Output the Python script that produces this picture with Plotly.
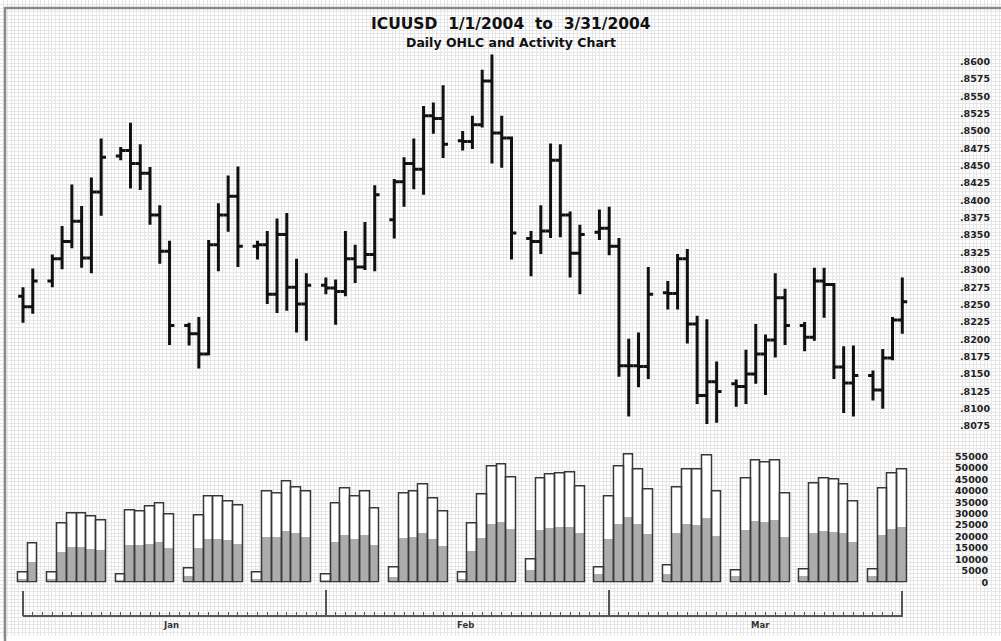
import plotly.graph_objects as go

# ---------------- data ----------------
dates = [
    "2004-01-01", "2004-01-02", "2004-01-04", "2004-01-05", "2004-01-06", "2004-01-07", "2004-01-08", "2004-01-09",
    "2004-01-11", "2004-01-12", "2004-01-13", "2004-01-14", "2004-01-15", "2004-01-16",
    "2004-01-18", "2004-01-19", "2004-01-20", "2004-01-21", "2004-01-22", "2004-01-23",
    "2004-01-25", "2004-01-26", "2004-01-27", "2004-01-28", "2004-01-29", "2004-01-30",
    "2004-02-01", "2004-02-02", "2004-02-03", "2004-02-04", "2004-02-05", "2004-02-06",
    "2004-02-08", "2004-02-09", "2004-02-10", "2004-02-11", "2004-02-12", "2004-02-13",
    "2004-02-15", "2004-02-16", "2004-02-17", "2004-02-18", "2004-02-19", "2004-02-20",
    "2004-02-22", "2004-02-23", "2004-02-24", "2004-02-25", "2004-02-26", "2004-02-27",
    "2004-02-29", "2004-03-01", "2004-03-02", "2004-03-03", "2004-03-04", "2004-03-05",
    "2004-03-07", "2004-03-08", "2004-03-09", "2004-03-10", "2004-03-11", "2004-03-12",
    "2004-03-14", "2004-03-15", "2004-03-16", "2004-03-17", "2004-03-18", "2004-03-19",
    "2004-03-21", "2004-03-22", "2004-03-23", "2004-03-24", "2004-03-25", "2004-03-26",
    "2004-03-28", "2004-03-29", "2004-03-30", "2004-03-31",
]

opens = [
    0.8262, 0.8247, 0.8284, 0.8316, 0.8341, 0.8370, 0.8317, 0.8412,
    0.8464, 0.8472, 0.8453, 0.8439, 0.8379, 0.8327,
    0.8220, 0.8208, 0.8179, 0.8336, 0.8379, 0.8406,
    0.8334, 0.8336, 0.8265, 0.8351, 0.8275, 0.8251,
    0.8278, 0.8274, 0.8269, 0.8316, 0.8304, 0.8322,
    0.8372, 0.8427, 0.8453, 0.8445, 0.8522, 0.8518,
    0.8486, 0.8485, 0.8509, 0.8572, 0.8497, 0.8490,
    0.8345, 0.8341, 0.8356, 0.8458, 0.8379, 0.8324,
    0.8354, 0.8360, 0.8334, 0.8162, 0.8162, 0.8161,
    0.8267, 0.8266, 0.8316, 0.8222, 0.8119, 0.8139,
    0.8136, 0.8132, 0.8150, 0.8179, 0.8199, 0.8260,
    0.8220, 0.8203, 0.8284, 0.8279, 0.8160, 0.8137,
    0.8148, 0.8127, 0.8173, 0.8228,
]
highs = [
    0.8275, 0.8302, 0.8322, 0.8363, 0.8423, 0.8392, 0.8433, 0.8489,
    0.8477, 0.8512, 0.8481, 0.8448, 0.8393, 0.8342,
    0.8224, 0.8232, 0.8343, 0.8396, 0.8436, 0.8449,
    0.8342, 0.8356, 0.8374, 0.8382, 0.8316, 0.8295,
    0.8289, 0.8286, 0.8356, 0.8336, 0.8369, 0.8422,
    0.8431, 0.8462, 0.8489, 0.8536, 0.8541, 0.8566,
    0.8500, 0.8522, 0.8588, 0.8610, 0.8522, 0.8492,
    0.8356, 0.8393, 0.8482, 0.8481, 0.8384, 0.8365,
    0.8387, 0.8391, 0.8346, 0.8201, 0.8210, 0.8304,
    0.8284, 0.8323, 0.8330, 0.8234, 0.8229, 0.8168,
    0.8142, 0.8185, 0.8222, 0.8207, 0.8295, 0.8273,
    0.8225, 0.8303, 0.8303, 0.8281, 0.8190, 0.8191,
    0.8155, 0.8186, 0.8232, 0.8289,
]
lows = [
    0.8224, 0.8237, 0.8275, 0.8301, 0.8331, 0.8303, 0.8295, 0.8378,
    0.8458, 0.8417, 0.8415, 0.8365, 0.8309, 0.8192,
    0.8191, 0.8158, 0.8177, 0.8298, 0.8355, 0.8304,
    0.8315, 0.8251, 0.8238, 0.8241, 0.8210, 0.8198,
    0.8265, 0.8221, 0.8262, 0.8281, 0.8300, 0.8298,
    0.8345, 0.8391, 0.8416, 0.8408, 0.8496, 0.8461,
    0.8472, 0.8474, 0.8505, 0.8453, 0.8447, 0.8315,
    0.8291, 0.8323, 0.8346, 0.8347, 0.8289, 0.8265,
    0.8343, 0.8321, 0.8146, 0.8089, 0.8131, 0.8143,
    0.8243, 0.8243, 0.8194, 0.8107, 0.8078, 0.8080,
    0.8103, 0.8107, 0.8136, 0.8120, 0.8174, 0.8192,
    0.8183, 0.8198, 0.8231, 0.8143, 0.8094, 0.8089,
    0.8112, 0.8100, 0.8170, 0.8208,
]
closes = [
    0.8247, 0.8284, 0.8316, 0.8341, 0.8370, 0.8317, 0.8412, 0.8462,
    0.8472, 0.8453, 0.8439, 0.8379, 0.8327, 0.8220,
    0.8208, 0.8179, 0.8336, 0.8379, 0.8406, 0.8334,
    0.8336, 0.8265, 0.8351, 0.8275, 0.8251, 0.8278,
    0.8274, 0.8269, 0.8316, 0.8304, 0.8322, 0.8408,
    0.8427, 0.8453, 0.8445, 0.8522, 0.8518, 0.8481,
    0.8485, 0.8509, 0.8572, 0.8497, 0.8490, 0.8353,
    0.8341, 0.8356, 0.8458, 0.8379, 0.8324, 0.8351,
    0.8360, 0.8334, 0.8162, 0.8162, 0.8161, 0.8265,
    0.8266, 0.8316, 0.8222, 0.8119, 0.8139, 0.8125,
    0.8132, 0.8150, 0.8179, 0.8199, 0.8260, 0.8220,
    0.8203, 0.8284, 0.8279, 0.8160, 0.8137, 0.8148,
    0.8127, 0.8173, 0.8228, 0.8254,
]

volume_total = [
    4500, 17200, 4500, 25900, 30100, 30100, 29000, 27200,
    3300, 31600, 31000, 33200, 34600, 29500,
    6000, 29100, 37700, 37700, 35500, 33600,
    4500, 39500, 39000, 44000, 41600, 39500,
    3300, 34600, 41200, 37300, 39700, 32200,
    6700, 39000, 39500, 42700, 36800, 31100,
    4500, 25900, 38300, 50500, 51700, 45900,
    10000, 45400, 47000, 47700, 48200, 41800,
    6600, 37600, 50700, 55800, 49300, 40500,
    7300, 41500, 49200, 49200, 55500, 39700,
    5200, 45300, 53300, 52400, 53400, 39000,
    5800, 43200, 45300, 44800, 42700, 35400,
    5800, 41200, 47600, 49200,
]
volume_gray = [
    1500, 8700, 1500, 13200, 15300, 15300, 14300, 13800,
    1000, 16000, 16000, 16700, 17300, 14700,
    2500, 14700, 18900, 18900, 18200, 16700,
    1500, 19800, 19800, 22100, 21400, 19800,
    1000, 17500, 20400, 18900, 20400, 16000,
    2000, 19400, 19700, 21300, 18600, 15700,
    1500, 13500, 19200, 25500, 26200, 23300,
    5100, 22700, 23600, 24200, 24200, 21300,
    3300, 18900, 25500, 28400, 25500, 20800,
    3600, 21300, 25500, 25000, 28100, 19900,
    2600, 22600, 26500, 26200, 26900, 19800,
    2600, 21300, 22300, 22000, 21300, 17500,
    2600, 20400, 23300, 24200,
]

price_ticks = [0.8600, 0.8575, 0.8550, 0.8525, 0.8500, 0.8475, 0.8450, 0.8425, 0.8400, 0.8375, 0.8350,
               0.8325, 0.8300, 0.8275, 0.8250, 0.8225, 0.8200, 0.8175, 0.8150, 0.8125, 0.8100, 0.8075]
price_tick_labels = [".8600", ".8575", ".8550", ".8525", ".8500", ".8475", ".8450", ".8425", ".8400", ".8375",
                     ".8350", ".8325", ".8300", ".8275", ".8250", ".8225", ".8200", ".8175", ".8150", ".8125",
                     ".8100", ".8075"]
volume_ticks = [55000, 50000, 45000, 40000, 35000, 30000, 25000, 20000, 15000, 10000, 5000, 0]
volume_tick_labels = ["55000", "50000", "45000", "40000", "35000", "30000", "25000", "20000", "15000",
                      "10000", "5000", "0"]
month_bounds = ["2004-01-01", "2004-02-01", "2004-03-01", "2004-03-31"]
axis_ends = ["2004-01-01", "2004-03-31"]
month_labels = ["Jan", "Feb", "Mar"]
month_label_dates = ["2004-01-16 04:00", "2004-02-15 06:00", "2004-03-16 12:00"]

title_text = "ICUUSD\u00a0\u00a01/1/2004\u00a0\u00a0to\u00a0\u00a03/31/2004"
subtitle_text = "Daily OHLC and Activity Chart"

# ---------------- layout helpers (pixel -> paper) ----------------
W, H = 1001, 641
DAY = 86400000


def fx(p):
    return p / W


def fy(p):
    return 1 - p / H


tick_font = dict(family="DejaVu Sans", size=9.5, color="#222222", weight="bold")
AXIS_GRAY = "#555555"

fig = go.Figure()

# background paper grid (own subplot, drawn first)
fig.add_trace(go.Scatter(x=[0], y=[0], xaxis="x", yaxis="y", mode="markers",
                         marker=dict(opacity=0), hoverinfo="skip", showlegend=False))

# OHLC
fig.add_trace(go.Ohlc(x=dates, open=opens, high=highs, low=lows, close=closes,
                      xaxis="x2", yaxis="y2", tickwidth=0.5,
                      increasing=dict(line=dict(color="#111111", width=3)),
                      decreasing=dict(line=dict(color="#111111", width=3)),
                      showlegend=False, hoverinfo="skip"))

# Volume: white body, gray inner portion, dark outline
fig.add_trace(go.Bar(x=dates, y=volume_total, xaxis="x3", yaxis="y3", width=DAY,
                     marker=dict(color="white", line=dict(width=0)), showlegend=False, hoverinfo="skip"))
fig.add_trace(go.Bar(x=dates, y=volume_gray, xaxis="x3", yaxis="y3", width=DAY,
                     marker=dict(color="#acacac", line=dict(width=0)), showlegend=False, hoverinfo="skip"))
fig.add_trace(go.Bar(x=dates, y=volume_total, xaxis="x3", yaxis="y3", width=DAY,
                     marker=dict(color="rgba(0,0,0,0)", line=dict(color="#383838", width=1.5)),
                     showlegend=False, hoverinfo="skip"))

# carriers for the bottom date axis (line + day ticks, and end ticks)
fig.add_trace(go.Scatter(x=["2004-01-01"], y=[0], xaxis="x4", yaxis="y3", mode="markers",
                         marker=dict(opacity=0), hoverinfo="skip", showlegend=False))
fig.add_trace(go.Scatter(x=["2004-01-01"], y=[0], xaxis="x5", yaxis="y3", mode="markers",
                         marker=dict(opacity=0), hoverinfo="skip", showlegend=False))

x_dom = [fx(13.23), fx(931.6)]
GRID = 3.7

fig.update_layout(
    width=W, height=H, autosize=False,
    margin=dict(l=0, r=0, t=0, b=0),
    paper_bgcolor="white", plot_bgcolor="rgba(0,0,0,0)",
    barmode="overlay", bargap=0,
    showlegend=False,
    xaxis=dict(domain=[0, 1], range=[0, W], showgrid=True, gridcolor="#e6e6e6", gridwidth=1, dtick=GRID,
               tick0=0, showticklabels=False, zeroline=False, ticks="", showline=False, fixedrange=True),
    yaxis=dict(domain=[0, 1], range=[0, H], showgrid=True, gridcolor="#e6e6e6", gridwidth=1, dtick=GRID,
               tick0=0, showticklabels=False, zeroline=False, ticks="", showline=False, fixedrange=True),
    xaxis2=dict(domain=x_dom, type="date", range=["2003-12-31", "2004-04-03"], anchor="y2",
                showticklabels=False, showgrid=False, zeroline=False, showline=False, ticks="",
                rangeslider=dict(visible=False)),
    yaxis2=dict(domain=[fy(445), fy(50)], range=[0.805286, 0.861714], anchor="free", position=fx(990),
                side="left", tickmode="array", tickvals=price_ticks, ticktext=price_tick_labels,
                showgrid=False, zeroline=False, showline=False, ticks="", tickfont=tick_font),
    xaxis3=dict(domain=x_dom, type="date", matches="x2", anchor="y3",
                showticklabels=False, showgrid=False, zeroline=False, showline=False, ticks=""),
    yaxis3=dict(domain=[fy(587), fy(452)], range=[0, 58466], anchor="free", position=fx(988),
                side="left", tickmode="array", tickvals=volume_ticks, ticktext=volume_tick_labels,
                showgrid=False, zeroline=False, showline=False, ticks="", tickfont=tick_font),
    xaxis4=dict(domain=[fx(22.8), fx(902.5)], type="date",
                range=["2003-12-31 23:30", "2004-03-31 00:30"],
                anchor="free", position=fy(620.5), showline=True, linecolor=AXIS_GRAY, linewidth=1.5,
                showgrid=False, zeroline=False, showticklabels=False,
                tickmode="array", tickvals=month_bounds, ticks="inside", ticklen=25, tickwidth=1.5,
                tickcolor=AXIS_GRAY,
                minor=dict(ticks="inside", ticklen=3, tickwidth=1, tickcolor=AXIS_GRAY,
                           dtick=DAY, tick0="2004-01-01", showgrid=False)),
    xaxis5=dict(domain=[fx(13.23), fx(912.07)], type="date",
                range=["2003-12-31", "2004-04-01"],
                anchor="free", position=fy(620.5), showline=False,
                showgrid=False, zeroline=False, showticklabels=False,
                tickmode="array", tickvals=axis_ends, ticks="inside", ticklen=25, tickwidth=1.5,
                tickcolor=AXIS_GRAY),
)

annotations = [
    dict(text=title_text, xref="paper", yref="paper", x=fx(511), y=fy(24), showarrow=False,
         xanchor="center", yanchor="middle",
         font=dict(family="DejaVu Sans", size=15.5, color="#111111", weight="bold")),
    dict(text=subtitle_text, xref="paper", yref="paper", x=fx(511), y=fy(42.5), showarrow=False,
         xanchor="center", yanchor="middle",
         font=dict(family="DejaVu Sans", size=12.5, color="#111111", weight="bold")),
]
for lbl, d in zip(month_labels, month_label_dates):
    annotations.append(dict(text=lbl, xref="x4", yref="paper", x=d, y=fy(630), showarrow=False,
                            xanchor="center", yanchor="middle",
                            font=dict(family="DejaVu Sans", size=8.5, color="#333333", weight="bold")))
fig.update_layout(annotations=annotations)

# outer frame
fig.add_shape(type="rect", xref="paper", yref="paper", x0=fx(5), x1=1.05, y0=-0.05, y1=fy(8),
              line=dict(color="#8a8a8a", width=2.5), fillcolor="rgba(0,0,0,0)", layer="above")

post = (
    "document.documentElement.style.margin='0';"
    "document.documentElement.style.overflow='hidden';"
    "document.body.style.margin='0';"
    "document.body.style.overflow='hidden';"
    "var gd=document.getElementById('{plot_id}');"
    "gd.style.position='fixed';gd.style.left='0px';gd.style.top='0px';"
)
fig.write_html("out.html", config={"displayModeBar": False}, post_script=post)
